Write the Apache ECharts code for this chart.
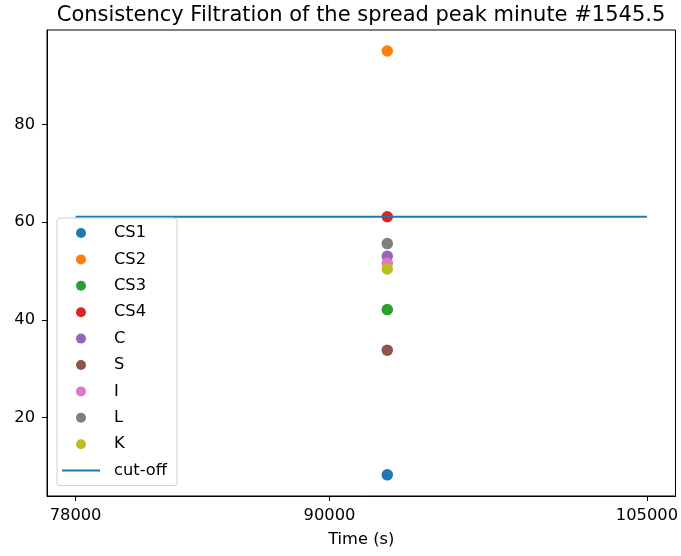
<!DOCTYPE html>
<html>
<head>
<meta charset="utf-8">
<script src="https://cdn.jsdelivr.net/npm/echarts@6/dist/echarts.min.js"></script>
<style>
  html, body { margin: 0; padding: 0; background: #fff; }
  #chart { width: 681px; height: 556px; }
</style>
</head>
<body>
<div id="chart"></div>
<script>
// peak minute 1545.5 -> seconds
const peakTime = 92730;
const names = ['CS1', 'CS2', 'CS3', 'CS4', 'C', 'S', 'I', 'L', 'K'];
const values = [8.3, 95.0, 42.1, 61.1, 53.0, 33.8, 51.6, 55.6, 50.4];
const colors = ['#1f77b4', '#ff7f0e', '#2ca02c', '#d62728', '#9467bd', '#8c564b', '#e377c2', '#7f7f7f', '#bcbd22'];
const cutoffX = [78000, 105000];
const cutoffY = [61.1, 61.1];
const xTicks = [78000, 90000, 105000];
const yTicks = [20, 40, 60, 80];

const font = 'DejaVu Sans';
const fs = 16.3;

const axisCommon = {
    axisLine: { show: true, onZero: false, lineStyle: { color: '#000', width: 1 } },
    axisTick: { show: true, inside: false, length: 5, lineStyle: { color: '#000', width: 1 } },
    splitLine: { show: false }
}

const series = names.map((n, i) => ({
    name: n,
    type: 'scatter',
    symbol: 'circle',
    symbolSize: 11.5,
    itemStyle: { color: colors[i], opacity: 1 },
    data: [[peakTime, values[i]]]
}));

series.push({
    name: 'cut-off',
    type: 'line',
    symbol: 'none',
    lineStyle: { color: '#1f77b4', width: 2 },
    itemStyle: { color: '#1f77b4' },
    data: cutoffX.map((x, i) => [x, cutoffY[i]])
});

const option = {
    animation: false,
    title: {
        text: 'Consistency Filtration of the spread peak minute #1545.5',
        left: 356,
        textAlign: 'center',
        top: 0,
        textStyle: { fontFamily: font, fontSize: 21, fontWeight: 'normal', color: '#000' }
    },
    grid: {
        left: 47, right: 3, top: 30, bottom: 60,
        show: true, borderColor: '#000', borderWidth: 1
    },
    legend: {
        orient: 'vertical',
        left: 57,
        top: 218,
        padding: [7, 10, 7, 5],
        itemWidth: 38,
        itemHeight: 10,
        itemGap: 10.4,
        backgroundColor: '#fff',
        borderColor: '#d0d0d0',
        borderWidth: 1,
        borderRadius: 3,
        textStyle: { fontFamily: font, fontSize: fs, color: '#000', padding: [0, 0, 0, 9] },
        data: names.map(n => ({ name: n, icon: 'circle' }))
            .concat([{ name: 'cut-off', icon: 'path://M0,0 L38,0 L38,2 L0,2 Z' }])
    },
    xAxis: {
        type: 'value',
        min: 76650,
        max: 106350,
        name: 'Time (s)',
        nameLocation: 'middle',
        nameGap: 36,
        nameTextStyle: { fontFamily: font, fontSize: fs, color: '#000' },
        ...axisCommon,
        axisTick: { ...axisCommon.axisTick, customValues: xTicks },
        axisLabel: {
            customValues: xTicks,
            formatter: v => String(v),
            margin: 12,
            fontFamily: font, fontSize: fs, color: '#000'
        }
    },
    yAxis: {
        type: 'value',
        min: 3.97,
        max: 99.3,
        ...axisCommon,
        axisTick: { ...axisCommon.axisTick, customValues: yTicks },
        axisLabel: {
            customValues: yTicks,
            formatter: v => String(v),
            margin: 12,
            fontFamily: font, fontSize: fs, color: '#000'
        }
    },
    series
}

const chart = echarts.init(document.getElementById('chart'));
chart.setOption(option);
window.addEventListener('resize', () => {
    chart.resize();
})
</script>
</body>
</html>
